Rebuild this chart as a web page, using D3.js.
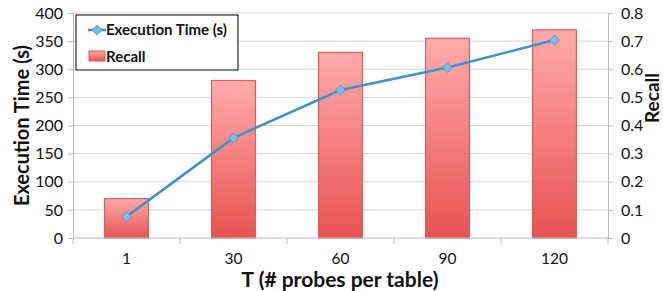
<!DOCTYPE html>
<html>
<head>
<meta charset="utf-8">
<script src="https://cdn.jsdelivr.net/npm/d3@7"></script>
<style>
  body { margin: 0; background: #fff; }
  text { font-family: Lato, "Open Sans", sans-serif; fill: #111; }
</style>
</head>
<body>
<div id="chart"></div>
<script>
var categories = ["1", "30", "60", "90", "120"];
var execTime = [38, 178, 263, 303, 352];
var recall = [0.14, 0.56, 0.66, 0.71, 0.74];
var leftTicks = [0, 50, 100, 150, 200, 250, 300, 350, 400];
var rightTicks = [0, 0.1, 0.2, 0.3, 0.4, 0.5, 0.6, 0.7, 0.8];

var W = 663, H = 291;
var mLeft = 73, mRight = 608, mTop = 13, mBottom = 238;

var svg = d3.select("#chart").append("svg")
    .attr("width", W)
    .attr("height", H);

var defs = svg.append("defs");
var grad = defs.append("linearGradient")
    .attr("id", "barGrad")
    .attr("x1", 0).attr("y1", 0).attr("x2", 0).attr("y2", 1);
grad.append("stop").attr("offset", "0%").attr("stop-color", "#ffabab");
grad.append("stop").attr("offset", "100%").attr("stop-color", "#e8524f");

var x = d3.scaleBand()
    .domain(categories)
    .range([mLeft, mRight])
    .paddingInner(0)
    .paddingOuter(0);

var yL = d3.scaleLinear().domain([0, 400]).range([mBottom, mTop]);
var yR = d3.scaleLinear().domain([0, 0.8]).range([mBottom, mTop]);

// gridlines
svg.append("g")
    .selectAll("line")
    .data(leftTicks.slice(1))
    .join("line")
    .attr("x1", mLeft).attr("x2", mRight)
    .attr("y1", d => yL(d)).attr("y2", d => yL(d))
    .attr("stroke", "#d4d4d4")
    .attr("stroke-width", 1);

// bars (recall)
var bw = x.bandwidth() * 0.41;
svg.append("g")
    .selectAll("rect")
    .data(recall)
    .join("rect")
    .attr("x", (d, i) => x(categories[i]) + x.bandwidth() / 2 - bw / 2)
    .attr("y", d => yR(d))
    .attr("width", bw)
    .attr("height", d => yR(0) - yR(d))
    .attr("fill", "url(#barGrad)")
    .attr("stroke", "#d9605e")
    .attr("stroke-width", 1.2);

// axes
var leftAxis = d3.axisLeft(yL).tickValues(leftTicks).tickSize(5).tickPadding(5);
var gL = svg.append("g")
    .attr("transform", `translate(${mLeft},0)`)
    .call(leftAxis);

var rightAxis = d3.axisRight(yR).tickValues(rightTicks).tickSize(5).tickPadding(8)
    .tickFormat(d => d === 0 ? "0" : d3.format(".1f")(d));
var gR = svg.append("g")
    .attr("transform", `translate(${mRight},0)`)
    .call(rightAxis);

var bottomAxis = d3.axisBottom(x).tickSize(0).tickPadding(15);
var gB = svg.append("g")
    .attr("transform", `translate(0,${mBottom})`)
    .call(bottomAxis);

// category boundary ticks
gB.selectAll(".bound")
    .data(d3.range(categories.length + 1))
    .join("line")
    .attr("class", "bound")
    .attr("x1", i => mLeft + i * x.bandwidth())
    .attr("x2", i => mLeft + i * x.bandwidth())
    .attr("y1", 0).attr("y2", 6)
    .attr("stroke", "#bcbcbc");

[gL, gR, gB].forEach(function (g) {
    g.select(".domain").attr("stroke", "#bcbcbc");
    g.selectAll(".tick line").attr("stroke", "#bcbcbc");
    g.selectAll("text")
        .style("font-size", "16px")
        .style("font-family", "Lato, 'Open Sans', sans-serif")
        .attr("fill", "#111");
});
gB.selectAll("text").style("font-size", "15.5px");
gB.select(".domain").attr("d", `M${mLeft},0H${mRight}`);

// line (execution time)
var line = d3.line()
    .x((d, i) => x(categories[i]) + x.bandwidth() / 2)
    .y(d => yL(d));

svg.append("path")
    .datum(execTime)
    .attr("d", line)
    .attr("fill", "none")
    .attr("stroke", "#3d93c9")
    .attr("stroke-width", 2.5);

var diamond = d3.symbol().type(d3.symbolDiamond2).size(60);
svg.append("g")
    .selectAll("path")
    .data(execTime)
    .join("path")
    .attr("d", diamond)
    .attr("transform", (d, i) => `translate(${x(categories[i]) + x.bandwidth() / 2},${yL(d)})`)
    .attr("fill", "#7cbde8")
    .attr("stroke", "#4a9bd0")
    .attr("stroke-width", 1);

// axis titles
svg.append("text")
    .attr("transform", `translate(29,${(mTop + mBottom) / 2}) rotate(-90)`)
    .attr("text-anchor", "middle")
    .style("font-size", "20px")
    .style("font-weight", "bold")
    .text("Execution Time (s)");

svg.append("text")
    .attr("transform", `translate(659,98) rotate(-90)`)
    .attr("text-anchor", "middle")
    .style("font-size", "19px")
    .style("font-weight", "bold")
    .text("Recall");

svg.append("text")
    .attr("x", 340)
    .attr("y", 287)
    .attr("text-anchor", "middle")
    .style("font-size", "21px")
    .style("font-weight", "bold")
    .text("T (# probes per table)");

// legend
var lg = svg.append("g");
lg.append("rect")
    .attr("x", 76).attr("y", 15)
    .attr("width", 162).attr("height", 55)
    .attr("fill", "#fff")
    .attr("stroke", "#000")
    .attr("stroke-width", 1);

lg.append("line")
    .attr("x1", 88).attr("x2", 106)
    .attr("y1", 30).attr("y2", 30)
    .attr("stroke", "#3d93c9")
    .attr("stroke-width", 2.5);
lg.append("path")
    .attr("d", diamond)
    .attr("transform", "translate(97,30)")
    .attr("fill", "#7cbde8")
    .attr("stroke", "#4a9bd0");
lg.append("text")
    .attr("x", 106).attr("y", 35)
    .style("font-size", "15px")
    .style("font-weight", "bold")
    .text("Execution Time (s)");

lg.append("rect")
    .attr("x", 89).attr("y", 51)
    .attr("width", 16).attr("height", 10)
    .attr("fill", "url(#barGrad)")
    .attr("stroke", "#d9605e");
lg.append("text")
    .attr("x", 106).attr("y", 62)
    .style("font-size", "15px")
    .style("font-weight", "bold")
    .text("Recall");
</script>
</body>
</html>
